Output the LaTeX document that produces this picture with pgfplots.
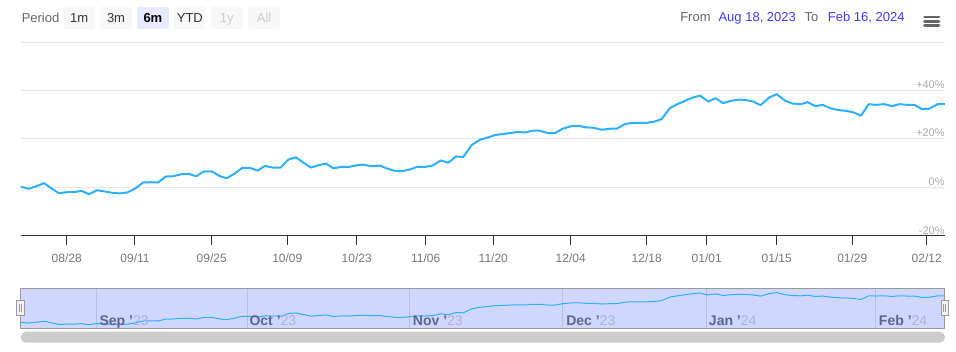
\documentclass[border=0pt]{standalone}
\usepackage{pgfplots}
\pgfplotsset{compat=1.18}
\usepackage{pgfplotstable}
\usepackage{fontspec}
\setmainfont{Liberation Sans}

\definecolor{linec}{RGB}{44,175,254}
\definecolor{gridc}{RGB}{230,230,230}
\definecolor{axisc}{RGB}{51,51,51}
\definecolor{tickl}{RGB}{119,119,119}
\definecolor{ylab}{RGB}{170,170,170}
\definecolor{btn}{RGB}{247,247,247}
\definecolor{btnsel}{RGB}{230,233,255}
\definecolor{txt}{RGB}{51,51,51}
\definecolor{lbl}{RGB}{102,102,102}
\definecolor{dis}{RGB}{204,204,204}
\definecolor{datec}{RGB}{60,60,235}
\definecolor{navfill}{RGB}{208,215,255}
\definecolor{navgrid}{RGB}{185,190,228}
\definecolor{navborder}{RGB}{153,153,153}
\definecolor{navdark}{RGB}{95,100,140}
\definecolor{navlight}{RGB}{175,178,205}
\definecolor{scroll}{RGB}{204,204,204}

\pgfplotstableread{
x y
20.7 0.29
29 -0.53
36.3 0.53
44 1.77
51.3 -0.29
58.7 -2.34
67.3 -1.93
74 -1.93
81.3 -1.36
89 -2.75
97 -1.11
104.7 -1.64
112.3 -2.18
119.7 -2.46
127.3 -2.05
135.3 -0.41
143 2.05
150.7 2.18
158 2.05
165.7 4.52
173 4.64
181.3 5.46
188.7 5.63
196.3 4.64
203.5 6.57
211.7 6.69
220 4.64
226.7 3.82
234.3 5.63
242.3 8.09
250 8.09
257.7 6.98
265 8.91
272.7 8.21
280.7 8.21
288.3 11.50
296 12.44
303.3 10.27
311 8.21
318.3 9.16
326 9.86
333.3 7.93
341.7 8.50
349 8.50
356.7 9.16
363.3 9.45
371.7 8.75
380 9.03
387.3 7.80
395 6.86
402.5 6.78
410 7.45
417.5 8.56
425 8.45
433 9.11
440.7 11.17
448.3 10.23
456 12.81
463.3 12.57
471.7 17.54
480 19.71
487.3 20.53
495 21.64
502.7 22.05
510 22.46
517.3 22.87
525 22.71
532.7 23.41
540 23.41
547.7 22.46
555 22.46
562.5 24.20
571.7 25.34
578.3 25.46
586 24.78
593.3 24.64
601.7 23.82
610 24.23
616.7 24.23
625 26.16
632.7 26.69
640.7 26.69
647.3 26.69
655 27.23
661.7 28.21
670 32.73
677.3 34.37
685 35.73
692.7 37.08
700 37.90
708.3 35.44
715.7 36.84
723.3 34.78
730.7 35.73
739.3 36.26
746.7 36.02
753.3 35.44
760.5 33.97
769.3 37.12
776.7 38.50
785.3 35.73
792.7 34.62
801 34.37
807.7 35.19
815.3 33.55
822.7 34.08
831 32.60
838.7 31.90
846 31.62
853.7 30.95
861 29.60
868.7 34.37
876 34.08
884.3 34.37
892 33.55
899.3 34.37
907 34.08
914.3 34.08
922 32.35
929.3 32.47
937.7 34.37
945 34.37
}\perf

\begin{document}
\begin{tikzpicture}
\begin{scope}[x=0.75pt,y=-0.75pt]
  \fill[white] (0,0) rectangle (956,352);
  % range selector
  \tikzset{btxt/.style={anchor=base, inner sep=0, font=\fontsize{9.75pt}{12pt}\selectfont}}
  \node[btxt, anchor=base west, text=lbl] at (21.5,22.6) {Period};
  \fill[btn, rounded corners=1.5pt] (63.5,7) rectangle (95,29);
  \node[btxt, text=txt] at (79.25,22.6) {1m};
  \fill[btn, rounded corners=1.5pt] (100.3,7) rectangle (131.8,29);
  \node[btxt, text=txt] at (116.05,22.6) {3m};
  \fill[btnsel, rounded corners=1.5pt] (137,7) rectangle (168.8,29);
  \node[btxt, text=black, font=\fontsize{9.75pt}{12pt}\selectfont\bfseries] at (152.9,22.6) {6m};
  \fill[btn, rounded corners=1.5pt] (174,7) rectangle (205.7,29);
  \node[btxt, text=txt] at (189.85,22.6) {YTD};
  \fill[btn, rounded corners=1.5pt] (211,7) rectangle (242.7,29);
  \node[btxt, text=dis] at (226.85,22.6) {1y};
  \fill[btn, rounded corners=1.5pt] (248.3,7) rectangle (280,29);
  \node[btxt, text=dis] at (264.15,22.6) {All};
  % from / to
  \node[btxt, anchor=base west, text=lbl] at (680,21.8) {From};
  \node[btxt, anchor=base west, text=datec] at (718.3,21.8) {Aug 18, 2023};
  \node[btxt, anchor=base west, text=lbl] at (804.3,21.8) {To};
  \node[btxt, anchor=base west, text=datec] at (827.7,21.8) {Feb 16, 2024};
  % menu icon
  \foreach \yy in {17,21.3,25.7}{
    \draw[lbl, line width=2.1pt, line cap=round] (924.5,\yy) -- (939,\yy);
  }
  % navigator background and grid
  \fill[navfill] (20.7,288.3) rectangle (944.3,328.3);
  \foreach \xx in {96.7,247.3,409.3,562.3,706.7,875.7}{
    \draw[navgrid, line width=0.75pt] (\xx,288.3) -- (\xx,328.3);
  }
\end{scope}

% main chart
\begin{axis}[
  at={(15.525pt,-177pt)}, anchor=south west,
  scale only axis, width=693.2pt, height=145.5pt,
  xmin=20.7, xmax=945, ymin=-20, ymax=60,
  axis x line*=bottom, axis y line*=left,
  y axis line style={draw=none},
  x axis line style={draw=axisc, line width=0.75pt, -},
  xtick={66.7,135,211.7,287.3,356.7,425.7,493.3,570.7,646.7,706.7,776.7,852.3,926.7},
  xticklabels={08/28,09/11,09/25,10/09,10/23,11/06,11/20,12/04,12/18,01/01,01/15,01/29,02/12},
  tick align=outside,
  xtick style={draw=axisc, line width=0.75pt},
  major tick length=6.75pt,
  xticklabel style={font=\fontsize{9pt}{10pt}\selectfont, text=tickl, yshift=-3pt},
  ytick={0,20,40,60}, yticklabels={}, ytick style={draw=none},
  ymajorgrids, grid style={gridc, line width=0.75pt},
  /pgf/number format/assume math mode=true,
]
\addplot[linec, line width=1.5pt, line join=round, no markers] table[x=x,y=y] {\perf};
\end{axis}

% navigator
\begin{axis}[
  at={(15.525pt,-246.225pt)}, anchor=south west,
  scale only axis, width=693.2pt, height=30pt,
  xmin=20.7, xmax=945, ymin=-7.3, ymax=44,
  hide axis,
]
\addplot[linec, line width=0.75pt, line join=round, no markers] table[x=x,y=y] {\perf};
\end{axis}

\begin{scope}[x=0.75pt,y=-0.75pt]
  % y labels
  \tikzset{ylbl/.style={anchor=base east, inner sep=0, text=ylab, font=\fontsize{8.25pt}{10pt}\selectfont}}
  \node[ylbl] at (944.8,89) {+40\%};
  \node[ylbl] at (944.8,137) {+20\%};
  \node[ylbl] at (944.8,186) {0\%};
  \node[ylbl] at (944.8,234.3) {-20\%};
  % navigator border
  \draw[navborder, line width=0.75pt] (20.7,288.3) rectangle (944.3,328.3);
  % navigator labels
  \tikzset{nlbl/.style={anchor=base west, inner sep=0, font=\fontsize{10.5pt}{12pt}\selectfont}}
  \foreach \xx/\mm/\yr in {99.3/Sep/23,249.3/Oct/23,412.7/Nov/23,566/Dec/23,708.7/Jan/24,878.7/Feb/24}{
    \node[nlbl] at (\xx,325.5) {\textcolor{navdark}{\bfseries\mm\ '}\textcolor{navlight}{\yr}};
  }
  % handles
  \foreach \hx in {16.7,941}{
    \draw[navborder, fill={rgb,255:red,242;green,242;blue,242}, line width=0.75pt] (\hx,301) rectangle ++(7.4,15);
    \draw[navborder, line width=0.6pt] (\hx+2.7,304.5) -- ++(0,8);
    \draw[navborder, line width=0.6pt] (\hx+4.7,304.5) -- ++(0,8);
  }
  % scrollbar
  \fill[scroll, rounded corners=4pt] (20.7,331.7) rectangle (945,342.7);
\end{scope}

\pgfresetboundingbox
\path (0,0) rectangle (717pt,-264pt);
\end{tikzpicture}
\end{document}
